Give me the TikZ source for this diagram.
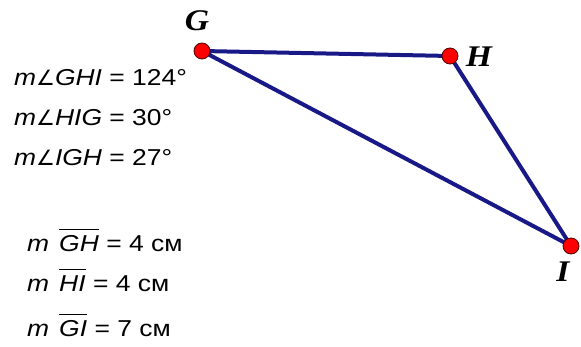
\documentclass[tikz,border=0pt]{standalone}
\usepackage{fontspec}
\setmainfont{Liberation Sans}
\newfontfamily\txtfont[FakeStretch=1.15]{Liberation Sans}
\newfontfamily\angfont[FakeStretch=1.0]{DejaVu Sans}
\newfontfamily\lblfont[FakeStretch=1.12]{Liberation Serif}
\newcommand\olseg[1]{\leavevmode\vbox{\hrule height 1.3pt\kern 6pt\hbox{#1}}}
\newcommand\angsym{{\angfont\fontsize{21}{24}\selectfont\itshape ∠}}
\definecolor{navy}{RGB}{24,24,135}
\tikzset{
  seg/.style={draw=navy,line width=4pt},
  pt/.style={circle,fill=red,draw=black!70!red,line width=0.8pt,minimum size=16pt,inner sep=0pt},
  lbl/.style={font=\lblfont\fontsize{30}{32}\selectfont\bfseries\itshape,inner sep=0pt},
  meas/.style={font=\txtfont\fontsize{23}{26}\selectfont,anchor=base west,inner sep=0pt}
}
\begin{document}
\begin{tikzpicture}[x=1pt,y=-1pt]
\useasboundingbox (0,0) rectangle (581,347);
\coordinate (G) at (202,51);
\coordinate (H) at (450,56);
\coordinate (I) at (571,246);
\draw[seg] (G) -- (H) -- (I) -- cycle;
\node[pt] (pG) at (G) {};
\node[pt] (pH) at (H) {};
\node[pt] (pI) at (I) {};
\node[lbl] (lG) at (197,21) {G};
\node[lbl] (lH) at (479,57) {H};
\node[lbl] (lI) at (563,272) {I};
\node[meas] (a1) at (14,85.5) {\textit{m\angsym GHI} = 124°};
\node[meas] (a2) at (14,126) {\textit{m\angsym HIG} = 30°};
\node[meas] (a3) at (14,166) {\textit{m\angsym IGH} = 27°};
\node[meas] (s1) at (27,252) {\textit{m}\hspace{10pt}\olseg{\textit{GH}} = 4 см};
\node[meas] (s2) at (27,292) {\textit{m}\hspace{10pt}\olseg{\textit{HI}} = 4 см};
\node[meas] (s3) at (27,337) {\textit{m}\hspace{10pt}\olseg{\textit{GI}} = 7 см};
\end{tikzpicture}
\end{document}
